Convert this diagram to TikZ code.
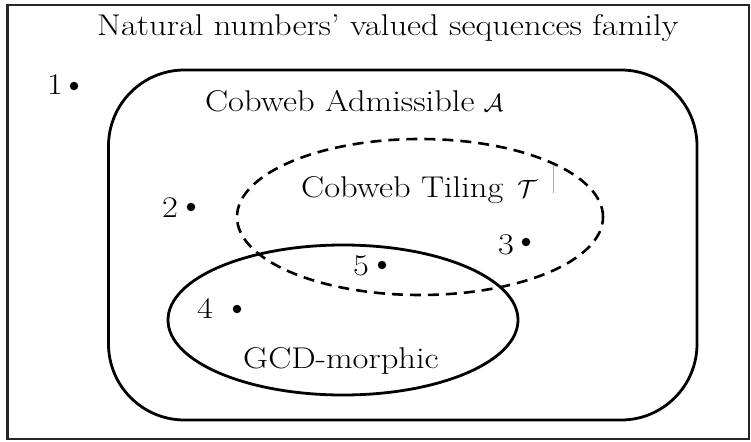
\documentclass[tikz,border=0pt]{standalone}
\usepackage{graphicx}
\newcommand{\widetxt}[1]{\scalebox{1.15}[1]{#1}}
\begin{document}
\begin{tikzpicture}[x=1pt,y=-1pt,
  lbl/.style={inner sep=0pt,font=\fontsize{30}{36}\selectfont},
  dot/.style={circle,fill=black,inner sep=0pt,minimum size=8.5pt},
  frame/.style={draw=black!85,line width=2.6pt},
  setline/.style={draw=black,line width=2.8pt},
  dashline/.style={draw=black,line width=2.6pt,dash pattern=on 11pt off 7pt}]
\useasboundingbox (0,0) rectangle (751,441);
% outer frame
\draw[frame] (7.5,5) rectangle (749,439);
% cobweb admissible
\draw[setline,rounded corners=76pt] (108.5,70) rectangle (697,420);
% GCD-morphic ellipse
\draw[setline] (343,320) ellipse [x radius=175pt, y radius=75pt];
% cobweb tiling ellipse
\draw[dashline] (420,217) ellipse [x radius=183pt, y radius=78pt];
% texts
\node[lbl,anchor=base west] (title) at (97,36) {\widetxt{Natural numbers' valued sequences family}};
\node[lbl,anchor=base west] (adm) at (205,111) {\widetxt{Cobweb Admissible} $\mathcal{A}$};
\node[lbl,anchor=base west] (til) at (301,197) {\widetxt{Cobweb Tiling}\hspace{14pt}$\mathcal{T}$};
\node[lbl,anchor=base west] (gcd) at (243,368) {\widetxt{GCD-morphic}};
\draw[black!35,line width=0.6pt] (553,165) -- (553,193);
% points
\node[lbl,anchor=base west] (n1) at (47,95) {\widetxt{1}};
\node[dot] (d1) at (74,86) {};
\node[lbl,anchor=base west] (n2) at (162,217) {\widetxt{2}};
\node[dot] (d2) at (191,207) {};
\node[lbl,anchor=base west] (n3) at (498,254) {\widetxt{3}};
\node[dot] (d3) at (526,242) {};
\node[lbl,anchor=base west] (n4) at (197,318) {\widetxt{4}};
\node[dot] (d4) at (237,309) {};
\node[lbl,anchor=base west] (n5) at (353,275) {\widetxt{5}};
\node[dot] (d5) at (382,265) {};
\end{tikzpicture}
\end{document}
